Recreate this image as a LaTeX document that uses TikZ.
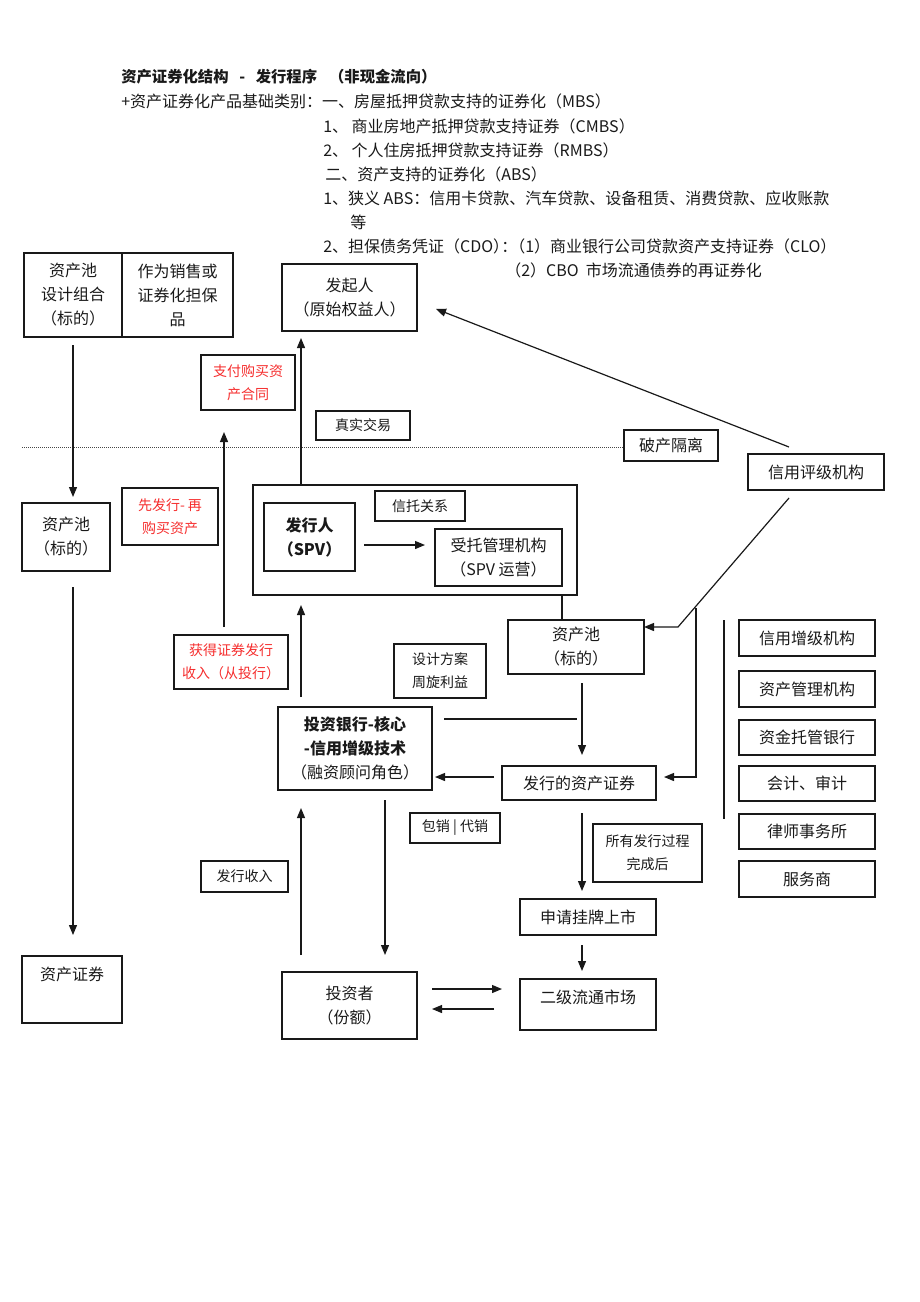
\documentclass[tikz,border=0pt]{standalone}
\usepackage{fontspec}
\setmainfont{Noto Sans CJK SC}
\usetikzlibrary{arrows.meta}
\definecolor{redtxt}{RGB}{245,45,45}
\definecolor{inkc}{RGB}{25,25,25}
\begin{document}
\begin{tikzpicture}[x=0.75pt,y=-0.75pt,
  rect/.style n args={4}{minimum width={(#3-#1)*0.75pt}, minimum height={(#4-#2)*0.75pt}, at={({(#1+#3)/2},{(#2+#4)/2})}},
  box/.style={draw=inkc, line width=0.8pt, inner sep=0pt, outer sep=0pt, align=center, text=inkc, font=\fontsize{12}{18}\selectfont},
  sbox/.style={box, font=\fontsize{10.5}{17.5}\selectfont},
  rbox/.style={sbox, text=redtxt},
  hdr/.style={anchor=west, inner sep=0pt, text=inkc, font=\fontsize{12}{14}\selectfont},
  arr/.style={draw=inkc, line width=0.9pt, -{Triangle[length=7.5pt,width=6pt]}},
  wire/.style={draw=inkc, line width=0.9pt},
  dotline/.style={draw=inkc!80, line width=0.6pt, dash pattern=on 0.6pt off 0.9pt}]
\useasboundingbox (0,0) rectangle (920,1302);

% header
\node[hdr, font=\fontsize{11.5}{14}\selectfont\bfseries] (h1) at (121,77) {资产证券化结构\hspace{8pt}-\hspace{8pt}发行程序\hspace{9pt}（非现金流向）};
\node[hdr] (h2) at (121,101) {+资产证券化产品基础类别：一、房屋抵押贷款支持的证券化（MBS）};
\node[hdr] (h3) at (323,126) {1、 商业房地产抵押贷款支持证券（CMBS）};
\node[hdr] (h4) at (323,150) {2、 个人住房抵押贷款支持证券（RMBS）};
\node[hdr] (h5) at (325,174) {二、资产支持的证券化（ABS）};
\node[hdr] (h6) at (323,198) {1、狭义 ABS：信用卡贷款、汽车贷款、设备租赁、消费贷款、应收账款};
\node[hdr] (h7) at (350,222) {等};
\node[hdr] (h8) at (323,246) {2、担保债务凭证（CDO）\kern-0.5em：\kern-0.5em（1）商业银行公司贷款资产支持证券（CLO）};
\node[hdr] (h9) at (505,270) {（2）CBO\ \ 市场流通债券的再证券化};

% boxes
\node[box, rect={24}{253}{122}{337}] (poolA) {资产池\\设计组合\\（标的）};
\node[box, rect={122}{253}{233}{337}] (sale) {作为销售或\\证券化担保\\品};
\node[box, rect={282}{264}{417}{331}] (orig) {发起人\\（原始权益人）};
\node[rbox, rect={201}{355}{295}{410}] (pay) {支付购买资\\产合同};
\node[sbox, rect={316}{411}{410}{440}] (real) {真实交易};
\node[box, rect={624}{430}{718}{461}] (bank) {破产隔离};
\node[box, rect={748}{454}{884}{490}] (rating) {信用评级机构};
\node[box, rect={22}{503}{110}{571}] (poolB) {资产池\\（标的）};
\node[rbox, rect={122}{488}{218}{545}] (first) {先发行- 再\\购买资产};
\node[box, rect={253}{485}{577}{595}] (spv) {};
\node[box, font=\fontsize{12}{18}\selectfont\bfseries, rect={264}{503}{355}{571}] (issuer) {发行人\\（SPV）};
\node[sbox, rect={375}{491}{465}{521}] (trust) {信托关系};
\node[box, rect={435}{529}{562}{586}] (trustee) {受托管理机构\\（SPV 运营）};
\node[rbox, rect={174}{635}{288}{689}] (gain) {获得证券发行\\收入（从投行）};
\node[sbox, rect={394}{644}{486}{698}] (design) {设计方案\\周旋利益};
\node[box, rect={508}{620}{644}{674}] (poolC) {资产池\\（标的）};
\node[box, rect={278}{707}{432}{790}] (ib) {\textbf{投资银行-核心}\\\textbf{-信用增级技术}\\（融资顾问角色）};
\node[box, rect={502}{766}{656}{800}] (abs) {发行的资产证券};
\node[sbox, rect={410}{813}{500}{843}] (cu) {包销 | 代销};
\node[sbox, rect={593}{824}{702}{882}] (done) {所有发行过程\\完成后};
\node[box, rect={520}{899}{656}{935}] (list) {申请挂牌上市};
\node[sbox, rect={201}{861}{288}{892}] (rev) {发行收入};
\node[box, text height=9pt, text depth=23pt, rect={22}{956}{122}{1023}] (sec) {资产证券};
\node[box, rect={282}{972}{417}{1039}] (inv) {投资者\\（份额）};
\node[box, text height=9pt, text depth=11pt, rect={520}{979}{656}{1030}] (sec2) {二级流通市场};

% right column
\node[box, rect={739}{620}{875}{656}] (s1) {信用增级机构};
\node[box, rect={739}{671}{875}{707}] (s2) {资产管理机构};
\node[box, rect={739}{720}{875}{755}] (s3) {资金托管银行};
\node[box, rect={739}{766}{875}{801}] (s4) {会计、审计};
\node[box, rect={739}{814}{875}{849}] (s5) {律师事务所};
\node[box, rect={739}{861}{875}{897}] (s6) {服务商};

% helper coordinates
\coordinate (xg) at (224,0);
\coordinate (x301) at (301,0);
\coordinate (x385) at (385,0);
\coordinate (x582) at (582,0);
\coordinate (y545) at (0,545);
\coordinate (y777) at (0,777);
\coordinate (y989) at (0,989);
\coordinate (y1009) at (0,1009);
\coordinate (k) at (678,627);
\coordinate (v1) at (696,608);
\coordinate (v2) at (696,777);
\coordinate (l1) at (444,719);
\coordinate (l2) at (577,719);
\coordinate (m1) at (724,620);
\coordinate (m2) at (724,819);
\coordinate (d0) at (22,447);

% dotted separation line
\draw[dotline] (d0) -- (d0 -| bank.west);

% connectors
\draw[arr, shorten <=6pt, shorten >=4.5pt] (poolA.south) -- (poolA.south |- poolB.north);
\draw[arr, shorten <=12pt, shorten >=15.75pt] (poolB.south -| poolA.south) -- (poolA.south |- sec.north);
\draw[arr, shorten <=6pt, shorten >=16.5pt] (gain.north -| xg) -- (pay.south -| xg);
\draw[arr, shorten >=5.25pt] (spv.north -| x301) -- (orig.south -| x301);
\draw[arr, shorten <=7.5pt, shorten >=7.5pt] (ib.north -| x301) -- (spv.south -| x301);
\draw[arr, shorten <=12.75pt, shorten >=13.5pt] (inv.north -| x301) -- (ib.south -| x301);
\draw[arr, shorten <=7.5pt, shorten >=12.75pt] (ib.south -| x385) -- (inv.north -| x385);
\draw[arr, shorten <=6.75pt, shorten >=7.5pt] (issuer.east |- y545) -- (trustee.west |- y545);
\draw[wire] (spv.south -| trustee.east) -- (poolC.north -| trustee.east);
\draw[arr] ([xshift=-20.25pt,yshift=5.25pt]rating.north) -- ([xshift=14.25pt,yshift=-8.6pt]orig.east);
\draw[arr] ([xshift=-20.25pt,yshift=-6pt]rating.south) -- (k) -- (poolC.east |- k);
\draw[arr, shorten >=6pt] (v1) -- (v2) -- (abs.east |- v2);
\draw[arr, shorten <=6.75pt, shorten >=8.25pt] (poolC.south -| x582) -- (abs.north -| x582);
\draw[arr, shorten <=6pt, shorten >=2.25pt] (abs.west |- y777) -- (ib.east |- y777);
\draw[wire] (l1) -- (l2);
\draw[wire] (m1) -- (m2);
\draw[arr, shorten <=9.75pt, shorten >=6pt] (abs.south -| x582) -- (list.north -| x582);
\draw[arr, shorten <=7.5pt, shorten >=6pt] (list.south -| x582) -- (sec2.north -| x582);
\draw[arr, shorten <=11.25pt, shorten >=13.5pt] (inv.east |- y989) -- (sec2.west |- y989);
\draw[arr, shorten <=19.5pt, shorten >=11.25pt] (sec2.west |- y1009) -- (inv.east |- y1009);
\end{tikzpicture}
\end{document}
